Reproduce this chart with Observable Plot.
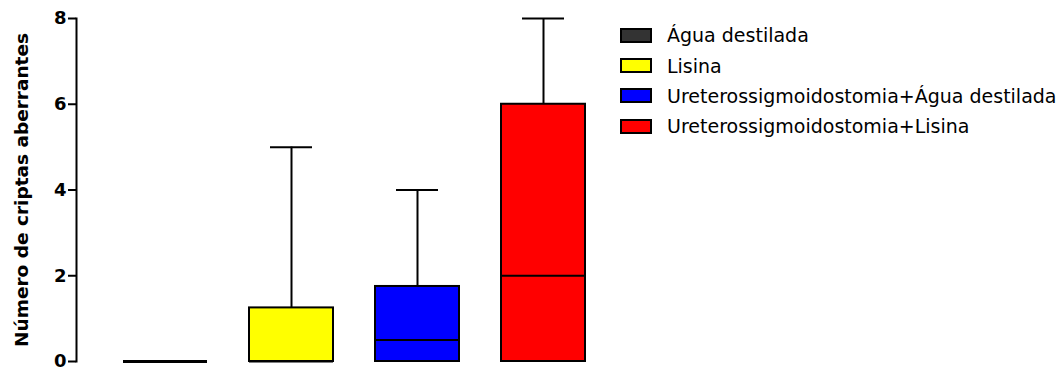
<!DOCTYPE html>
<html>
<head>
<meta charset="utf-8">
<script src="https://cdn.jsdelivr.net/npm/d3@7"></script>
<script src="https://cdn.jsdelivr.net/npm/@observablehq/plot@0.6"></script>
<style>
  body { margin: 0; background: #fff; }
  #wrap { position: relative; width: 1063px; height: 385px; overflow: hidden; }
  #legend { position: absolute; left: 620px; top: 20px; width: 443px; font-family: "DejaVu Sans", sans-serif; font-size: 19px; color: #000; white-space: nowrap; }
  .row { display: flex; align-items: center; height: 30.4px; }
  .sw { flex: none; width: 32px; height: 15px; box-sizing: border-box; border: 2px solid #000; margin-right: 15px; }
</style>
</head>
<body>
<div id="wrap"></div>
<script>
const groups = ["Água destilada", "Lisina", "Ureterossigmoidostomia+Água destilada", "Ureterossigmoidostomia+Lisina"];
const mins = [0, 0, 0, 0];
const q1s = [0, 0, 0, 0];
const medians = [0, 0, 0.5, 2];
const q3s = [0, 1.25, 1.75, 6];
const maxs = [0, 5, 4, 8];
const colors = ["#333333", "#ffff00", "#0000ff", "#ff0000"];
const yTicks = [0, 2, 4, 6, 8];
const yLabel = "Número de criptas aberrantes";

const data = groups.map((g, i) => ({group: g, min: mins[i], q1: q1s[i], median: medians[i], q3: q3s[i], max: maxs[i], color: colors[i]}));

const chart = Plot.plot({
  width: 1063,
  height: 385,
  marginLeft: 76,
  marginRight: 432,
  marginTop: 18,
  marginBottom: 24,
  style: {fontFamily: "DejaVu Sans, sans-serif", fontWeight: "bold", fontSize: "16.5px", color: "#000", background: "#fff"},
  x: {domain: groups, axis: null, paddingInner: 1/3, paddingOuter: 0.365},
  y: {domain: [0, 8]},
  marks: [
    Plot.frame({anchor: "left", strokeWidth: 2, stroke: "#000"}),
    Plot.axisY({ticks: yTicks, tickSize: 8, tickPadding: 2, tickFormat: d => String(d), strokeWidth: 2,
      label: yLabel, labelAnchor: "center", labelArrow: "none", labelOffset: 62}),
    Plot.ruleX(data, {x: "group", y1: "q3", y2: "max", stroke: "#000", strokeWidth: 2}),
    Plot.ruleX(data, {x: "group", y1: "min", y2: "q1", stroke: "#000", strokeWidth: 2}),
    Plot.tickY(data, {x: "group", y: "max", insetLeft: 21, insetRight: 21, stroke: "#000", strokeWidth: 2}),
    Plot.barY(data, {x: "group", y1: "q1", y2: "q3", fill: "color", stroke: "#000", strokeWidth: 2}),
    Plot.tickY(data, {x: "group", y: "median", stroke: "#000", strokeWidth: 2}),
    Plot.tickY(data.filter(d => d.q3 === d.q1), {x: "group", y: "q1", stroke: "#000", strokeWidth: 3})
  ]
});

d3.select(chart).selectAll("text").each(function() {
  const t = d3.select(this);
  const isLabel = this.textContent.trim() === yLabel;
  t.style("font-size", isLabel ? "18.5px" : "18px", "important")
   .style("font-weight", "bold", "important")
   .style("font-family", "DejaVu Sans, sans-serif", "important");
});

document.getElementById("wrap").appendChild(chart);

const legend = document.createElement("div");
legend.id = "legend";
groups.forEach((g, i) => {
  const row = document.createElement("div");
  row.className = "row";
  const sw = document.createElement("div");
  sw.className = "sw";
  sw.style.background = colors[i];
  const t = document.createElement("span");
  t.textContent = g;
  row.appendChild(sw);
  row.appendChild(t);
  legend.appendChild(row);
});
document.getElementById("wrap").appendChild(legend);
</script>
</body>
</html>
